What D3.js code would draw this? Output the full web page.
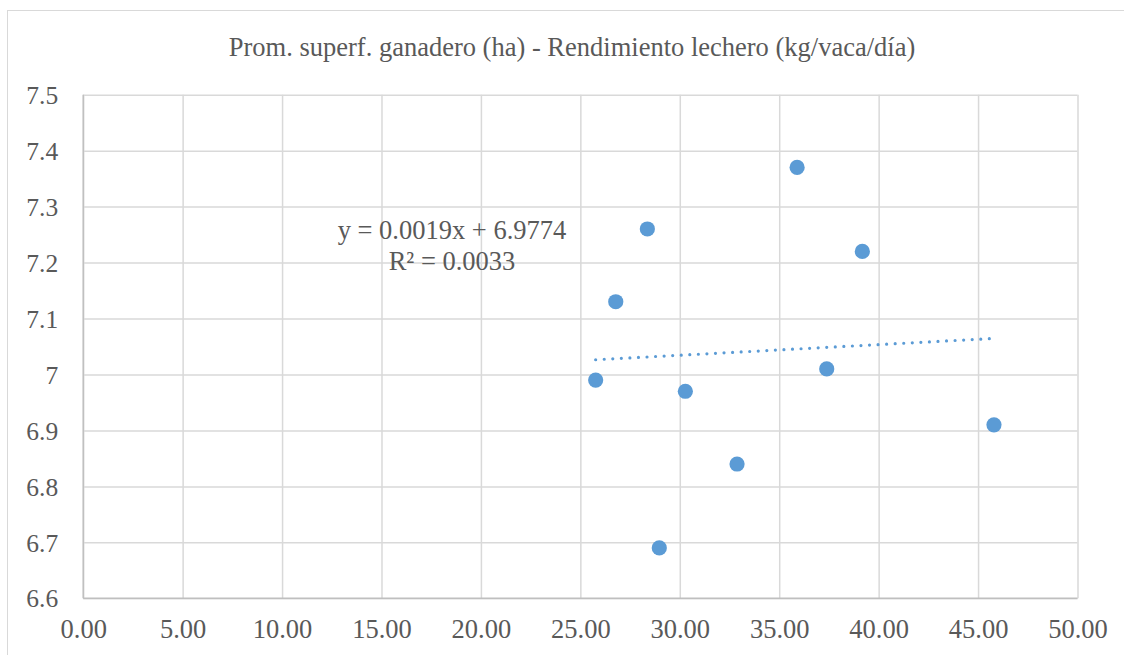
<!DOCTYPE html>
<html>
<head>
<meta charset="utf-8">
<script src="https://cdn.jsdelivr.net/npm/d3@7"></script>
<style>
  html, body { margin: 0; padding: 0; background: #ffffff; }
  svg { display: block; }
  svg text { font-family: "Liberation Serif", Tinos, "Times New Roman", Times, "DejaVu Serif", serif; }
</style>
</head>
<body>
<svg id="chart" width="1124" height="655"></svg>
<script>
// ---- Data ----
const chartTitle = "Prom. superf. ganadero (ha) - Rendimiento lechero (kg/vaca/día)";
const superficie = [25.77, 26.78, 28.37, 28.97, 30.28, 32.88, 35.90, 37.39, 39.18, 45.80];
const rendimiento = [6.99, 7.13, 7.26, 6.69, 6.97, 6.84, 7.37, 7.01, 7.22, 6.91];
const xTicks = [0, 5, 10, 15, 20, 25, 30, 35, 40, 45, 50];
const yTicks = [6.6, 6.7, 6.8, 6.9, 7.0, 7.1, 7.2, 7.3, 7.4, 7.5];
const trendSlope = 0.0019;
const trendIntercept = 6.9774;
const trendLabel = ["y = 0.0019x + 6.9774", "R² = 0.0033"];

// ---- Layout ----
const svg = d3.select("#chart");
const plot = { left: 83.2, right: 1077.5, top: 94.7, bottom: 598.3 };
const textColor = "#595959";
const gridColor = "#d9d9d9";
const pointColor = "#5b9bd5";

// chart-area border
svg.append("rect")
  .attr("x", 7.5).attr("y", 10.5)
  .attr("width", 1140).attr("height", 700)
  .attr("fill", "#ffffff")
  .attr("stroke", gridColor).attr("stroke-width", 1);

const x = d3.scaleLinear().domain([0, 50]).range([plot.left, plot.right]);
const y = d3.scaleLinear().domain([6.6, 7.5]).range([plot.bottom, plot.top]);

// gridlines
const gx = svg.append("g")
  .attr("transform", `translate(0,${plot.bottom})`)
  .call(d3.axisBottom(x).tickValues(xTicks).tickSize(-(plot.bottom - plot.top)).tickFormat(""));
gx.select(".domain").remove();
gx.selectAll(".tick line").attr("stroke", gridColor).attr("stroke-width", 1.5);

const gy = svg.append("g")
  .attr("transform", `translate(${plot.left},0)`)
  .call(d3.axisLeft(y).tickValues(yTicks).tickSize(-(plot.right - plot.left)).tickFormat(""));
gy.select(".domain").remove();
gy.selectAll(".tick line").attr("stroke", gridColor).attr("stroke-width", 1.5);

// axis lines
svg.append("line")
  .attr("x1", plot.left).attr("x2", plot.left)
  .attr("y1", plot.top).attr("y2", plot.bottom)
  .attr("stroke", "#bfbfbf").attr("stroke-width", 1.5);
svg.append("line")
  .attr("x1", plot.left).attr("x2", plot.right)
  .attr("y1", plot.bottom).attr("y2", plot.bottom)
  .attr("stroke", "#bfbfbf").attr("stroke-width", 1.5);

// tick labels
const xLab = svg.append("g")
  .attr("transform", `translate(0,${plot.bottom})`)
  .call(d3.axisBottom(x).tickValues(xTicks).tickSize(0).tickPadding(40).tickFormat(d3.format(".2f")));
xLab.select(".domain").remove();
xLab.attr("font-family", null);
xLab.selectAll("text")
  .attr("font-size", 26.5)
  .attr("fill", textColor).attr("dy", 0).attr("y", 40);

const yLab = svg.append("g")
  .attr("transform", `translate(${plot.left},0)`)
  .call(d3.axisLeft(y).tickValues(yTicks).tickSize(0).tickPadding(25)
    .tickFormat(d => (Math.abs(d - 7) < 1e-9 ? "7" : d3.format(".1f")(d))));
yLab.select(".domain").remove();
yLab.attr("font-family", null);
yLab.selectAll("text")
  .attr("font-size", 25.5)
  .attr("fill", textColor).attr("dy", "0.34em");

// title
svg.append("text")
  .attr("x", 572).attr("y", 56)
  .attr("text-anchor", "middle")
  .attr("font-size", 26.5)
  .attr("fill", textColor)
  .text(chartTitle);

// trendline (linear, dotted)
const xExt = d3.extent(superficie);
svg.append("line")
  .attr("x1", x(xExt[0])).attr("y1", y(trendIntercept + trendSlope * xExt[0]))
  .attr("x2", x(xExt[1])).attr("y2", y(trendIntercept + trendSlope * xExt[1]))
  .attr("stroke", pointColor).attr("stroke-width", 3.2)
  .attr("stroke-linecap", "round")
  .attr("stroke-dasharray", "0 8.57");

// points
const pts = superficie.map((v, i) => ({ x: v, y: rendimiento[i] }));
svg.append("g").selectAll("circle")
  .data(pts)
  .join("circle")
  .attr("cx", d => x(d.x))
  .attr("cy", d => y(d.y))
  .attr("r", 7.6)
  .attr("fill", pointColor);

// trendline label
const lab = svg.append("text")
  .attr("font-size", 26.5)
  .attr("fill", textColor)
  .attr("text-anchor", "middle");
lab.selectAll("tspan")
  .data(trendLabel)
  .join("tspan")
  .attr("x", 452)
  .attr("y", (d, i) => 239 + i * 31)
  .text(d => d);
</script>
</body>
</html>
